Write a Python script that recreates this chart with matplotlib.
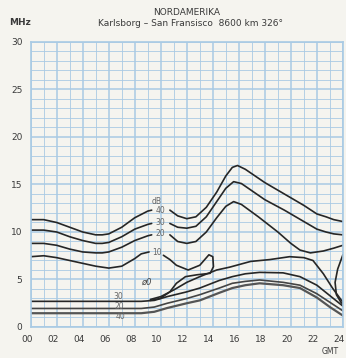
import matplotlib
matplotlib.use('Agg')
import matplotlib.pyplot as plt
import matplotlib.transforms as mtransforms
from matplotlib.ticker import MultipleLocator

# --- Daten (Stunden GMT, Frequenz MHz) ---
# obere Kurven, jeweils links und rechts vom Label
db40_xa = [0, 1, 2, 3, 4, 5, 5.5, 6, 7, 8, 9, 9.3]
db40_ya = [11.3, 11.3, 11.0, 10.5, 10.0, 9.7, 9.7, 9.8, 10.5, 11.5, 12.2, 12.3]
db40_xb = [10.7, 11.3, 12, 12.7, 13.5, 14.3, 15, 15.5, 15.9, 16.5, 18, 19.5, 21, 22, 22.7, 23.3, 24]
db40_yb = [12.3, 11.7, 11.4, 11.6, 12.6, 14.2, 15.9, 16.8, 17.0, 16.6, 15.2, 14.0, 12.8, 11.9, 11.6, 11.3, 11.1]

db30_xa = [0, 1, 2, 3, 4, 5, 5.5, 6, 7, 8, 9, 9.3]
db30_ya = [10.2, 10.2, 10.0, 9.5, 9.1, 8.8, 8.8, 8.9, 9.5, 10.3, 10.8, 10.9]
db30_xb = [10.7, 11.3, 12, 12.7, 13.5, 14.3, 15, 15.6, 16.2, 18, 19.5, 21, 22, 22.7, 23.3, 24]
db30_yb = [10.9, 10.5, 10.4, 10.6, 11.6, 13.2, 14.6, 15.3, 15.1, 13.4, 12.3, 11.1, 10.3, 10.0, 9.8, 9.7]

db20_xa = [0, 1, 2, 3, 4, 5, 5.5, 6, 7, 8, 9, 9.3]
db20_ya = [8.8, 8.8, 8.6, 8.2, 7.9, 7.8, 7.8, 7.9, 8.4, 9.1, 9.6, 9.7]
db20_xb = [10.7, 11.3, 12, 12.7, 13.5, 14.3, 15, 15.6, 16.2, 17.5, 19, 20, 20.7, 21.5, 22.5, 23.3, 24]
db20_yb = [9.7, 9.0, 8.8, 9.0, 10.0, 11.5, 12.7, 13.2, 12.9, 11.6, 10.0, 8.8, 8.1, 7.8, 8.0, 8.3, 8.6]

db10_xa = [0, 1, 2, 3, 4, 5, 6, 7, 8, 8.5, 9.1]
db10_ya = [7.4, 7.5, 7.3, 7.0, 6.7, 6.4, 6.2, 6.4, 7.2, 7.7, 7.9]
db10_xb = [10.2, 10.7, 11.2, 12.1, 13, 13.7, 14, 14.05, 13.8, 12.8, 11.9, 11.2, 10.7, 9.95, 9.2]
db10_yb = [7.55, 7.1, 6.5, 6.0, 6.5, 7.6, 7.4, 6.35, 5.65, 5.5, 5.3, 4.6, 3.7, 3.0, 2.8]

# 0-dB Kurve
db0_x = [9.2, 10, 11, 12, 13, 14.3, 15.3, 16.9, 18.4, 19.9, 21, 21.7, 22.5, 23.2, 24]
db0_y = [2.9, 3.2, 3.9, 4.7, 5.3, 6.0, 6.3, 6.9, 7.1, 7.4, 7.3, 7.0, 5.6, 4.1, 2.6]

# kleine Schleife am rechten Rand
edge_x = [24, 23.6, 23.4, 23.5, 23.85, 24]
edge_y = [7.6, 6.1, 4.7, 3.4, 2.6, 2.4]

# untere Kurven (30, 20, 40 dB)
low_x = [0, 8.5, 9.5, 10.5, 12, 13, 14.5, 15.5, 16.5, 17.6, 19.4, 20.7, 22, 23, 24]
low30_y = [2.7, 2.7, 2.8, 3.2, 3.7, 4.1, 4.9, 5.3, 5.6, 5.75, 5.7, 5.3, 4.4, 3.3, 2.2]
low20_y = [1.95, 1.95, 2.1, 2.5, 3.0, 3.4, 4.1, 4.6, 4.8, 4.95, 4.7, 4.4, 3.5, 2.6, 1.7]
low40_y = [1.45, 1.45, 1.6, 2.0, 2.5, 2.8, 3.6, 4.1, 4.4, 4.6, 4.4, 4.1, 3.1, 2.1, 1.2]

hours = list(range(0, 25, 2))
hour_labels = ['%02d' % h for h in hours]
mhz = [0, 5, 10, 15, 20, 25, 30]

paper = '#f5f4ef'
grid_blue = '#a9cae4'
ink = '#262626'
txt = '#3a3a3a'

fig = plt.figure(figsize=(3.46, 3.58), dpi=100)
fig.patch.set_facecolor(paper)
ax = fig.add_axes([0.0887, 0.0866, 0.9023, 0.7961])
ax.set_facecolor(paper)
ax.set_xlim(0, 24)
ax.set_ylim(0, 30)

# Raster
ax.xaxis.set_major_locator(MultipleLocator(2))
ax.xaxis.set_minor_locator(MultipleLocator(1))
ax.yaxis.set_major_locator(MultipleLocator(5))
ax.yaxis.set_minor_locator(MultipleLocator(1))
ax.grid(which='major', color=grid_blue, lw=1.1)
ax.grid(which='minor', color=grid_blue, lw=0.6)
ax.set_axisbelow(True)
for s in ax.spines.values():
    s.set_color(grid_blue)
    s.set_linewidth(1.2)
ax.tick_params(which='both', length=0, colors=txt, labelsize=6.5)
ax.set_xticks(hours)
ax.set_xticklabels(hour_labels)
ax.set_yticks(mhz)
ax.tick_params(axis='x', pad=6)
ax.tick_params(axis='y', pad=6)

# Stundenzahlen etwas nach links versetzt wie im Original
shift = mtransforms.ScaledTranslation(-4 / 100, 0, fig.dpi_scale_trans)
for t in ax.get_xticklabels():
    t.set_transform(t.get_transform() + shift)

lw = 1.2
for xs, ys in [(db40_xa, db40_ya), (db40_xb, db40_yb),
               (db30_xa, db30_ya), (db30_xb, db30_yb),
               (db20_xa, db20_ya), (db20_xb, db20_yb),
               (db10_xa, db10_ya), (db10_xb, db10_yb),
               (db0_x, db0_y), (edge_x, edge_y)]:
    ax.plot(xs, ys, color=ink, lw=lw, solid_capstyle='round', solid_joinstyle='round')

ax.plot(low_x, low30_y, color=ink, lw=lw)
ax.plot(low_x, low20_y, color='#444444', lw=lw)
ax.plot(low_x, low40_y, color='#555555', lw=lw + 0.4)

# Kurvenbeschriftung
lab = dict(fontsize=5.5, color='#666666', ha='center', va='center')
ax.text(9.7, 13.2, 'dB', **lab)
ax.text(10.0, 12.3, '40', **lab)
ax.text(10.0, 11.0, '30', **lab)
ax.text(10.0, 9.8, '20', **lab)
ax.text(9.7, 7.8, '10', **lab)
ax.text(8.9, 4.7, 'ø0', fontsize=6, color='#444444', ha='center', va='center', style='italic')
ax.text(6.7, 3.2, '30', **lab)
ax.text(6.8, 2.2, '20', **lab)
ax.text(6.9, 1.1, '40', **lab)

# Titel
fig.text(0.54, 0.965, 'NORDAMERIKA', fontsize=6.5, color=txt, ha='center', va='center')
fig.text(0.55, 0.933, 'Karlsborg – San Fransisco  8600 km 326°', fontsize=6.5, color=txt,
         ha='center', va='center')
fig.text(0.058, 0.938, 'MHz', fontsize=6.5, color=txt, ha='center', va='center', weight='bold')
fig.text(0.955, 0.017, 'GMT', fontsize=5.5, color=txt, ha='center', va='center')

plt.savefig('out.png', dpi=100, facecolor=paper)
